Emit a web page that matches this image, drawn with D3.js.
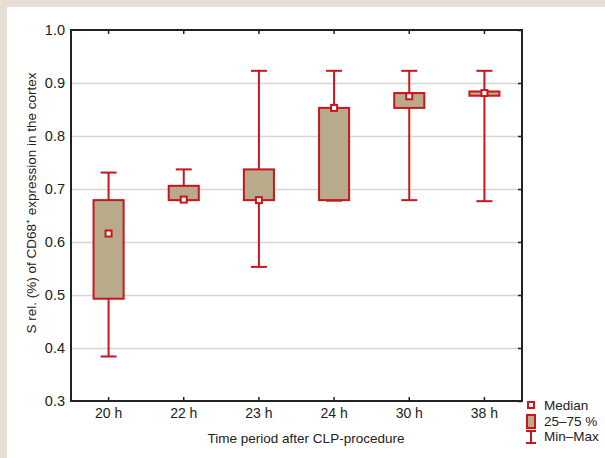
<!DOCTYPE html>
<html><head><meta charset="utf-8">
<script src="https://cdn.jsdelivr.net/npm/d3@7"></script>
<style>
html,body{margin:0;padding:0;background:#e7dfd3;}
svg{display:block;}
text{font-family:"Liberation Sans",Arial,sans-serif;fill:#222;}
</style></head>
<body>
<script>
const categories = ["20 h","22 h","23 h","24 h","30 h","38 h"];
const minVals    = [0.384,0.679,0.553,0.678,0.679,0.677];
const q1Vals     = [0.493,0.679,0.679,0.679,0.853,0.876];
const medianVals = [0.616,0.680,0.679,0.853,0.875,0.881];
const q3Vals     = [0.679,0.706,0.737,0.853,0.881,0.884];
const maxVals    = [0.731,0.737,0.923,0.923,0.923,0.923];
const yTicks     = [0.3,0.4,0.5,0.6,0.7,0.8,0.9,1.0];
const yLabel = "S rel. (%) of CD68\u207A expression in the cortex";
const xLabel = "Time period after CLP-procedure";
const legendLabels = ["Median","25\u201375 %","Min\u2013Max"];

(function(){
const W=605,H=458;
const pL=71,pR=522,pT=30,pB=401;
const red="#c8161c", fill="#b9aa8b";
const FF="Liberation Sans, Arial, sans-serif";

const svg=d3.select("body").append("svg").attr("width",W).attr("height",H);
svg.append("rect").attr("x",0).attr("y",0).attr("width",W).attr("height",H).attr("fill","#e7dfd3");
svg.append("rect").attr("x",7).attr("y",7).attr("width",W-7).attr("height",H-7).attr("fill","#fff");

const x=d3.scaleBand().domain(categories).range([pL,pR]).padding(0);
const y=d3.scaleLinear().domain([0.3,1.0]).range([pB,pT]);

svg.append("g").attr("transform",`translate(${pL},0)`)
  .call(d3.axisLeft(y).tickValues(yTicks.filter(v=>v>0.3&&v<1)).tickSize(-(pR-pL)).tickFormat(""))
  .call(g=>g.select(".domain").remove())
  .call(g=>g.selectAll("line").attr("stroke","#d6d6d6").attr("stroke-width",1.6));

svg.append("g").attr("transform",`translate(${pL},0)`)
  .call(d3.axisLeft(y).tickValues(yTicks).tickSize(0).tickPadding(6).tickFormat(d3.format(".1f")))
  .call(g=>g.select(".domain").remove())
  .call(g=>g.selectAll("text").attr("font-size",14.5).style("font-family",FF).attr("fill","#222"));

svg.append("g").attr("transform",`translate(${pR},0)`)
  .call(d3.axisRight(y).tickValues(yTicks).tickSize(-4).tickFormat(""))
  .call(g=>g.select(".domain").remove())
  .call(g=>g.selectAll("line").attr("stroke","#222").attr("stroke-width",1.5));

svg.append("g").attr("transform",`translate(0,${pT})`)
  .call(d3.axisTop(x).tickSize(-4).tickFormat(""))
  .call(g=>g.select(".domain").remove())
  .call(g=>g.selectAll("line").attr("stroke","#222").attr("stroke-width",1.5));

svg.append("g").attr("transform",`translate(0,${pB})`)
  .call(d3.axisBottom(x).tickSize(-4).tickPadding(7))
  .call(g=>g.select(".domain").remove())
  .call(g=>g.selectAll("line").attr("stroke","#222").attr("stroke-width",1.5))
  .call(g=>g.selectAll("text").attr("font-size",14).style("font-family",FF).attr("fill","#222"));

const data=categories.map((c,i)=>({c,min:minVals[i],q1:q1Vals[i],med:medianVals[i],q3:q3Vals[i],max:maxVals[i]}));
const bw=x.bandwidth()*0.4, cap=16, ms=6;
const gB=svg.append("g");
data.forEach(d=>{
  const cx=x(d.c)+x.bandwidth()/2;
  const g=gB.append("g");
  g.append("line").attr("x1",cx).attr("x2",cx).attr("y1",y(d.max)).attr("y2",y(d.min)).attr("stroke",red).attr("stroke-width",2);
  g.append("line").attr("x1",cx-cap/2).attr("x2",cx+cap/2).attr("y1",y(d.max)).attr("y2",y(d.max)).attr("stroke",red).attr("stroke-width",2);
  g.append("line").attr("x1",cx-cap/2).attr("x2",cx+cap/2).attr("y1",y(d.min)).attr("y2",y(d.min)).attr("stroke",red).attr("stroke-width",2);
  g.append("rect").attr("x",cx-bw/2).attr("y",y(d.q3)).attr("width",bw).attr("height",Math.max(1,y(d.q1)-y(d.q3)))
    .attr("fill",fill).attr("stroke",red).attr("stroke-width",2);
  g.append("rect").attr("x",cx-ms/2).attr("y",y(d.med)-ms/2).attr("width",ms).attr("height",ms)
    .attr("fill","#fff").attr("stroke",red).attr("stroke-width",2);
});

svg.append("rect").attr("x",pL).attr("y",pT).attr("width",pR-pL).attr("height",pB-pT)
  .attr("fill","none").attr("stroke","#222").attr("stroke-width",2);

svg.append("text").attr("x",306).attr("y",443).attr("text-anchor","middle").attr("font-size",13.5).style("font-family",FF).text(xLabel);
svg.append("text").attr("transform","translate(36,203) rotate(-90)").attr("text-anchor","middle").attr("font-size",13.5).style("font-family",FF).text(yLabel);

const lx=531;
const lg=svg.append("g");
lg.append("rect").attr("x",lx-3).attr("y",402).attr("width",6).attr("height",6).attr("fill","#fff").attr("stroke",red).attr("stroke-width",2);
lg.append("rect").attr("x",lx-4).attr("y",415).attr("width",8).attr("height",13).attr("fill",fill).attr("stroke",red).attr("stroke-width",2);
lg.append("line").attr("x1",lx).attr("x2",lx).attr("y1",431).attr("y2",443).attr("stroke",red).attr("stroke-width",2);
lg.append("line").attr("x1",lx-5).attr("x2",lx+5).attr("y1",431).attr("y2",431).attr("stroke",red).attr("stroke-width",2);
lg.append("line").attr("x1",lx-5).attr("x2",lx+5).attr("y1",443).attr("y2",443).attr("stroke",red).attr("stroke-width",2);
legendLabels.forEach((t,i)=>{
  lg.append("text").attr("x",544).attr("y",[410,426,441][i]).attr("font-size",13.5).style("font-family",FF).text(t);
});
})();
</script>
</body></html>
